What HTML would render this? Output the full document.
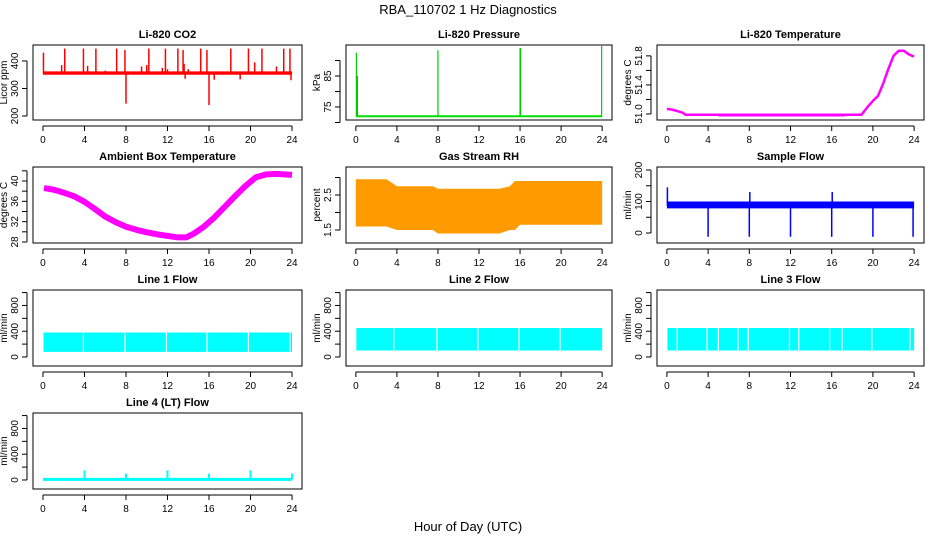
<!DOCTYPE html>
<html><head><meta charset="utf-8"><style>
body{margin:0;background:#fff}
svg{display:block;font-family:"Liberation Sans",sans-serif}
</style></head><body>
<svg id="c" width="936" height="540" viewBox="0 0 936 540">
<text x="468" y="14" text-anchor="middle" font-size="13">RBA_110702  1 Hz Diagnostics</text>
<text x="468" y="531" text-anchor="middle" font-size="13">Hour of Day (UTC)</text>
</svg>
<script>
// ---- data arrays ----
const xTicks=[0,4,8,12,16,20,24];
// CO2
const co2Base=[[0,355],[24,355]];
const co2SpikeHours=[0.05,2.1,3.9,5.1,7.1,7.9,8.0,10.2,11.8,13.0,13.5,15.2,15.8,16.0,18.1,19.8,21.1,23.2,23.8];
const co2SpikeTops=[430,445,445,445,445,440,245,445,445,445,440,445,440,240,445,445,445,445,445];
const co2SmallHours=[1.8,4.3,6.0,9.5,10.0,11.5,12.0,13.6,13.7,14.0,16.5,19.0,20.4,22.5,23.9];
const co2SmallTops=[385,382,365,380,385,375,370,390,335,370,332,333,395,380,330];
const co2Ticks=[200,300,400];
// Pressure
const presBase=[[0,72],[24,72]];
const presSpikeHours=[0.05,0.15,8.0,16.0,16.05,23.95];
const presSpikeTops=[92.5,85,93.3,94,94,95];
const presTicks=[70,75,80,85,90];const presLabels=[75,85];
// Li-820 temperature
const tHours=[0,0.5,1,1.5,1.8,18.9,19.5,20,20.5,21,21.5,22,22.5,23,23.5,24];
const tVals=[51.07,51.06,51.04,51.02,50.99,50.99,51.1,51.18,51.25,51.42,51.62,51.8,51.87,51.87,51.82,51.79];
const tTicks=[51.0,51.2,51.4,51.6,51.8];const tLabels=[51.0,51.4,51.8];
// Ambient box temperature
const aHours=[0.1,1,2,3,4,5,6,7,8,9,10,11,12,13,13.8,14.5,15.5,16.5,17.5,18.5,19.5,20.5,21.5,22.5,24];
const aVals=[38.6,38.3,37.7,37,35.9,34.5,33,31.9,31,30.4,29.9,29.5,29.2,28.9,28.9,29.6,31,32.8,34.9,37,39,40.7,41.3,41.4,41.2];
const aTicks=[28,30,32,34,36,38,40,42];const aLabels=[28,32,36,40];
// RH band
const rhHours=[0,3,4,7.5,8,14,15,15.5,16,24];
const rhHi=[2.95,2.95,2.75,2.75,2.68,2.68,2.75,2.9,2.9,2.9];
const rhLo=[1.6,1.6,1.5,1.5,1.4,1.4,1.5,1.5,1.65,1.65];
const rhTicks=[1.5,2.0,2.5,3.0];const rhLabels=[1.5,2.5];
// Sample flow
const sfHours=[0,24];const sfHi=[100,100];const sfLo=[78,78];
const sfSpikeHours=[0.05,4,8,8.05,12,16,16.05,20,23.9];
const sfSpikeVals=[145,-12,-12,130,-12,-12,130,-12,-12];
const sfTicks=[0,50,100,150,200];const sfLabels=[0,100,200];
// Line flows
const flowTicks=[0,200,400,600,800,1000];const flowLabels=[0,400,800];
const l1Lo=[80,80],l1Hi=[380,380];const l1Gaps=[3.9,7.9,11.9,15.8,19.8,23.8];
const l2Lo=[100,100],l2Hi=[450,450];const l2Gaps=[3.7,7.9,11.9,15.9,19.9];
const l3Lo=[100,100],l3Hi=[450,450];const l3Gaps=[1.0,3.9,5.0,6.9,7.9,11.9,12.8,15.8,17.0,19.9,23.6];
const l4Base=[[0,10],[24,10]];
const l4SpikeHours=[4,8,12,16,20,24];const l4SpikeVals=[150,100,150,100,150,100];

// ---- layout ----
const svg=document.getElementById('c');
const NS='http://www.w3.org/2000/svg';
const cols=[[33,302],[346,612],[657,924]];
const rows=[[45,120],[167,243],[290,366],[413,489]];
function mk(tag,attrs,parent){const e=document.createElementNS(NS,tag);for(const k in attrs)e.setAttribute(k,attrs[k]);(parent||svg).appendChild(e);return e;}

function panel(r,c,title,ylab,ydom,yticks,ylabels,name,dec){
  const [x0,x1]=cols[c],[y0,y1]=rows[r];
  const g=mk('g',{});
  
  
  const xs=h=>x0+(h+0.96)/25.92*(x1-x0);
  const ys=v=>y1-(v-ydom[0])/(ydom[1]-ydom[0])*(y1-y0);
  const t=mk('text',{x:(x0+x1)/2,y:y0-7,'text-anchor':'middle','font-size':11,'font-weight':'bold'},g);t.textContent=title;
  
  const b=mk('rect',{x:x0,y:y0,width:x1-x0,height:y1-y0,fill:'none',stroke:'#000'},g);
  
  mk('line',{x1:xs(0),x2:xs(24),y1:y1+6,y2:y1+6,stroke:'#000'},g);
  xTicks.forEach(h=>{mk('line',{x1:xs(h),x2:xs(h),y1:y1+6,y2:y1+11,stroke:'#000'},g);
    const l=mk('text',{x:xs(h),y:y1+23,'text-anchor':'middle','font-size':10},g);l.textContent=h;
    });
  mk('line',{x1:x0-6,x2:x0-6,y1:ys(yticks[0]),y2:ys(yticks[yticks.length-1]),stroke:'#000'},g);
  yticks.forEach(v=>mk('line',{x1:x0-11,x2:x0-6,y1:ys(v),y2:ys(v),stroke:'#000'},g));
  ylabels.forEach(v=>{const l=mk('text',{x:0,y:0,'text-anchor':'middle','font-size':10,transform:`translate(${x0-15},${ys(v)}) rotate(-90)`},g);l.textContent=dec?v.toFixed(dec):v;
    });
  const yl=mk('text',{x:0,y:0,'text-anchor':'middle','font-size':10,transform:`translate(${x0-26},${(y0+y1)/2}) rotate(-90)`},g);yl.textContent=ylab;
  
  return {g,xs,ys};
}
function line(p,hs,vs,col,w,nm){const pts=hs.map((h,i)=>p.xs(h)+','+p.ys(vs[i])).join(' ');
  const e=mk('polyline',{points:pts,fill:'none',stroke:col,'stroke-width':w,'stroke-linejoin':'round'},p.g);
  }
function band(p,hs,lo,hi,col,nm){const pts=hs.map((h,i)=>p.xs(h)+','+p.ys(hi[i])).concat(hs.slice().reverse().map((h,j)=>{const i=hs.length-1-j;return p.xs(h)+','+p.ys(lo[i]);})).join(' ');
  const e=mk('polygon',{points:pts,fill:col},p.g);
  }
function spikes(p,hs,from,tops,col,w,nm){hs.forEach((h,i)=>{const e=mk('line',{x1:p.xs(h),x2:p.xs(h),y1:p.ys(from),y2:p.ys(tops[i]),stroke:col,'stroke-width':w},p.g);
  });}
function gaps(p,hs,lo,hi,nm){hs.forEach(h=>{const e=mk('line',{x1:p.xs(h),x2:p.xs(h),y1:p.ys(hi)-1,y2:p.ys(lo)+1,stroke:'#fff','stroke-width':1.2},p.g);
  });}

let p=panel(0,0,'Li-820 CO2','Licor ppm',[185.5,458],co2Ticks,co2Ticks,'co2');
band(p,[0,24],[350,350],[362,362],'#ff0000','co2-band');
line(p,co2Base.map(d=>d[0]),co2Base.map(d=>d[1]),'#ff0000',2,'co2-line');
spikes(p,co2SpikeHours,355,co2SpikeTops,'#ff0000',1.5,'co2-spike');
spikes(p,co2SmallHours,355,co2SmallTops,'#ff0000',1.5,'co2-small-spike');
p=panel(0,1,'Li-820 Pressure','kPa',[70.8,95],presTicks,presLabels,'pressure');
line(p,presBase.map(d=>d[0]),presBase.map(d=>d[1]),'#00dd00',2,'pressure-line');
spikes(p,presSpikeHours,72,presSpikeTops,'#00cc00',1.2,'pressure-spike');
p=panel(0,2,'Li-820 Temperature','degrees C',[50.917,51.95],tTicks,tLabels,'licor-temp',1);
line(p,tHours,tVals,'#ff00ff',2.5,'licor-temp-line');
band(p,[5,17.3],[50.965,50.965],[50.99,50.99],'#ff00ff','licor-temp-band');
p=panel(1,0,'Ambient Box Temperature','degrees C',[27.8,42.75],aTicks,aLabels,'ambient');
line(p,aHours,aVals,'#ff00ff',6,'ambient-line');
p=panel(1,1,'Gas Stream RH','percent',[1.129,3.3],rhTicks,rhLabels,'rh');
band(p,rhHours,rhLo,rhHi,'#ff9a00','rh-band');
p=panel(1,2,'Sample Flow','ml/min',[-31.7,209.5],sfTicks,sfLabels,'sample-flow');
band(p,sfHours,sfLo,sfHi,'#0000ff','sample-flow-band');
spikes(p,sfSpikeHours,88,sfSpikeVals,'#0000ff',1.5,'sample-flow-spike');
p=panel(2,0,'Line 1 Flow','ml/min',[-140,1040],flowTicks,flowLabels,'line1-flow');
band(p,[0.05,24],l1Lo,l1Hi,'#00ffff','line1-flow-band');gaps(p,l1Gaps,80,380,'line1-gap');
p=panel(2,1,'Line 2 Flow','ml/min',[-140,1040],flowTicks,flowLabels,'line2-flow');
band(p,[0.05,24],l2Lo,l2Hi,'#00ffff','line2-flow-band');gaps(p,l2Gaps,100,450,'line2-gap');
p=panel(2,2,'Line 3 Flow','ml/min',[-140,1040],flowTicks,flowLabels,'line3-flow');
band(p,[0.05,24],l3Lo,l3Hi,'#00ffff','line3-flow-band');gaps(p,l3Gaps,100,450,'line3-gap');
p=panel(3,0,'Line 4 (LT) Flow','ml/min',[-140,1040],flowTicks,flowLabels,'line4-flow');
line(p,l4Base.map(d=>d[0]),l4Base.map(d=>d[1]),'#00ffff',3,'line4-flow-line');
spikes(p,l4SpikeHours,10,l4SpikeVals,'#00ffff',2,'line4-flow-spike');
</script>
</body></html>
